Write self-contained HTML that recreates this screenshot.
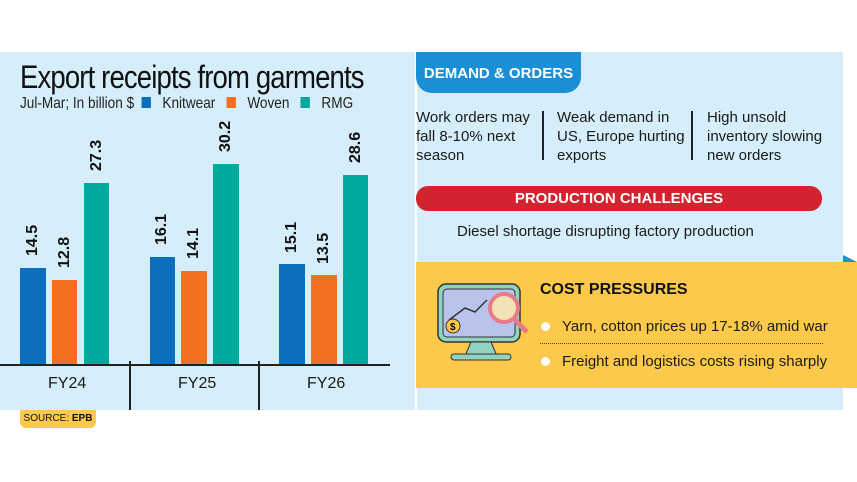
<!DOCTYPE html>
<html><head><meta charset="utf-8"><style>
body{margin:0;width:857px;height:482px;background:#fff;position:relative;overflow:hidden;font-family:"Liberation Sans",sans-serif;}
.a{position:absolute;}
.bar{position:absolute;}
.k{background:#0b6fbd}.w{background:#f37021}.r{background:#00a99d}
.v{position:absolute;font-weight:bold;font-size:16px;color:#111;transform:rotate(-90deg);transform-origin:left top;white-space:nowrap;}
.t{font-size:15px;color:#1a1a1a;line-height:19px;}
</style></head><body>
<div class="a" style="left:0;top:52px;width:415px;height:358px;background:#d5eefa"></div>
<div class="a" style="left:417px;top:52px;width:426px;height:358px;background:#d5eefa"></div>
<div class="a" style="left:20px;top:59px;font-size:32px;color:#111;letter-spacing:-1px;transform:scaleX(0.86);transform-origin:left;white-space:nowrap">Export receipts from garments</div>
<div class="a" style="left:20px;top:95px;font-size:16px;color:#222;transform:scaleX(0.85);transform-origin:left;white-space:nowrap">Jul-Mar; In billion $&nbsp;&nbsp;<span style="display:inline-block;width:11px;height:11px;background:#0b6fbd"></span>&nbsp;&nbsp;&nbsp;Knitwear&nbsp;&nbsp;&nbsp;<span style="display:inline-block;width:11px;height:11px;background:#f37021"></span>&nbsp;&nbsp;&nbsp;Woven&nbsp;&nbsp;&nbsp;<span style="display:inline-block;width:11px;height:11px;background:#00a99d"></span>&nbsp;&nbsp;&nbsp;RMG</div>
<div class="bar k" style="left:20px;width:26px;top:268px;height:97px"></div>
<div class="bar w" style="left:52px;width:25px;top:280px;height:85px"></div>
<div class="bar r" style="left:84px;width:25px;top:183px;height:182px"></div>
<div class="bar k" style="left:150px;width:25px;top:257px;height:108px"></div>
<div class="bar w" style="left:181px;width:26px;top:271px;height:94px"></div>
<div class="bar r" style="left:213px;width:26px;top:164px;height:201px"></div>
<div class="bar k" style="left:279px;width:26px;top:264px;height:101px"></div>
<div class="bar w" style="left:311px;width:26px;top:275px;height:90px"></div>
<div class="bar r" style="left:343px;width:25px;top:175px;height:190px"></div>
<div class="v" style="left:24px;top:256px">14.5</div>
<div class="v" style="left:56px;top:268px">12.8</div>
<div class="v" style="left:88px;top:171px">27.3</div>
<div class="v" style="left:153px;top:245px">16.1</div>
<div class="v" style="left:185px;top:259px">14.1</div>
<div class="v" style="left:217px;top:152px">30.2</div>
<div class="v" style="left:283px;top:253px">15.1</div>
<div class="v" style="left:315px;top:264px">13.5</div>
<div class="v" style="left:347px;top:163px">28.6</div>
<div class="a" style="left:0;top:364px;width:390px;height:2px;background:#222"></div>
<div class="a" style="left:129px;top:361px;width:2px;height:49px;background:#222"></div>
<div class="a" style="left:258px;top:361px;width:2px;height:49px;background:#222"></div>
<div class="a t" style="left:48px;top:374px;font-size:16px">FY24</div>
<div class="a t" style="left:178px;top:374px;font-size:16px">FY25</div>
<div class="a t" style="left:307px;top:374px;font-size:16px">FY26</div>
<div class="a" style="left:20px;top:410px;width:76px;height:18px;background:#fcc94a;border-radius:0 0 6px 6px;font-size:10px;line-height:18px;text-align:center;color:#111">SOURCE: <b>EPB</b></div>
<div class="a" style="left:416px;top:52px;width:165px;height:41px;background:#1a8fd6;border-radius:0 0 16px 16px;color:#fff;font-weight:bold;font-size:15px;line-height:44px;text-align:center">DEMAND &amp; ORDERS</div>
<div class="a t" style="left:416px;top:108px">Work orders may<br>fall 8-10% next<br>season</div>
<div class="a" style="left:542px;top:111px;width:2px;height:49px;background:#222"></div>
<div class="a t" style="left:557px;top:108px">Weak demand in<br>US, Europe hurting<br>exports</div>
<div class="a" style="left:691px;top:111px;width:2px;height:49px;background:#222"></div>
<div class="a t" style="left:707px;top:108px">High unsold<br>inventory slowing<br>new orders</div>
<div class="a" style="left:416px;top:186px;width:406px;height:25px;background:#d3232f;border-radius:12px;color:#fff;font-weight:bold;font-size:15px;line-height:25px;text-align:center">PRODUCTION CHALLENGES</div>
<div class="a t" style="left:457px;top:222px;font-size:15px">Diesel shortage disrupting factory production</div>
<div class="a" style="left:843px;top:255px;width:0;height:0;border-left:14px solid #1a8fd6;border-top:7px solid transparent"></div>
<div class="a" style="left:416px;top:262px;width:441px;height:126px;background:#fcc94a"></div>
<svg class="a" style="left:435px;top:282px" width="95" height="80">
<rect x="3" y="2" width="82" height="58" rx="8" fill="#8fd3c0" stroke="#333" stroke-width="1.5"/>
<rect x="8" y="7" width="72" height="48" rx="4" fill="#b9c4ec" stroke="#333"/>
<path d="M36 60 L30 74 L62 74 L56 60Z" fill="#8fd3c0" stroke="#333"/>
<rect x="16" y="72" width="60" height="6" rx="3" fill="#8fd3c0" stroke="#333"/>
<polyline points="14,38 30,26 40,30 52,18" fill="none" stroke="#333" stroke-width="1.5"/>
<circle cx="18" cy="44" r="7" fill="#fcc94a" stroke="#333"/><text x="15" y="48" font-size="10" font-weight="bold" font-family="Liberation Sans">$</text>
<rect x="55" y="12" width="28" height="28" rx="14" fill="#f2e3b6" stroke="#e77b8a" stroke-width="4"/>
<line x1="80" y1="38" x2="92" y2="50" stroke="#e77b8a" stroke-width="5"/>
</svg>
<div class="a" style="left:540px;top:281px;font-weight:bold;font-size:16px;color:#111">COST PRESSURES</div>
<div class="a" style="left:541px;top:322px;width:9px;height:9px;border-radius:50%;background:#fff"></div>
<div class="a t" style="left:562px;top:317px;font-size:15px">Yarn, cotton prices up 17-18% amid war</div>
<div class="a" style="left:540px;top:343px;width:283px;border-top:1.5px dotted #444"></div>
<div class="a" style="left:541px;top:357px;width:9px;height:9px;border-radius:50%;background:#fff"></div>
<div class="a t" style="left:562px;top:352px;font-size:15px">Freight and logistics costs rising sharply</div>
</body></html>
